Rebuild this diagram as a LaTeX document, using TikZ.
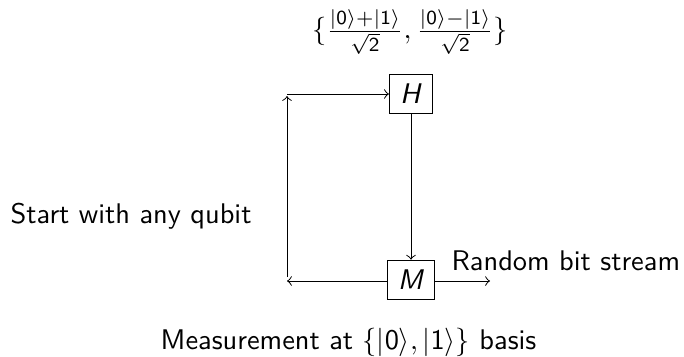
\documentclass[tikz,border=0pt]{standalone}
\newcommand{\myket}[1]{|\mathsf{#1}\rangle}
\begin{document}
\begin{tikzpicture}[x=0.352pt,y=-0.352pt,font=\sffamily,
  box/.style={draw,inner xsep=3.8pt,inner ysep=3.5pt,line width=0.35pt},
  arr/.style={->,line width=0.35pt},
  lbl/.style={inner sep=0pt}]
\useasboundingbox (0,0) rectangle (684,356);
\node[box] (H) at (411,94) {\textit{H}};
\node[box] (M) at (411,280) {\textit{M}};
\coordinate (bl) at (287,281);
\coordinate (bls) at (287,277);
\coordinate (tls) at (287,96);
\coordinate (tl) at (287,94);
\coordinate (out) at (490,281);
\draw[arr] (H) -- (M);
\draw[arr] (M.west |- bl) -- (bl);
\draw[arr] (bls) -- (tls);
\draw[arr] (tl) -- (H.west |- tl);
\draw[arr] (M.east |- out) -- (out);
\node[lbl,anchor=base] (top) at (410,38.6) {$\{\frac{\myket{0}+\myket{1}}{\sqrt{\mathsf{2}}}, \frac{\myket{0}-\myket{1}}{\sqrt{\mathsf{2}}}\}$};
\node[lbl,anchor=base west] (start) at (10,223) {Start with any qubit};
\node[lbl,anchor=base west] (rand) at (451,270.5) {Random bit stream};
\node[lbl,anchor=base] (meas) at (348.5,349) {Measurement at $\{\myket{0}, \myket{1}\}$ basis};
\end{tikzpicture}
\end{document}
